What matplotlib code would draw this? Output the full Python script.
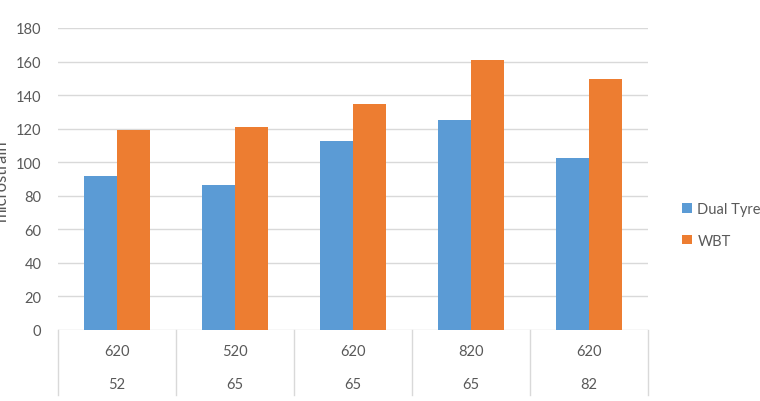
import matplotlib
matplotlib.use("Agg")
import matplotlib.pyplot as plt
import matplotlib.transforms as mtransforms
import numpy as np

# Data
outer_labels = ["620", "520", "620", "820", "620"]
inner_labels = ["52", "65", "65", "65", "82"]
series_names = ["Dual Tyre", "WBT"]
dual_tyre = [92, 86.5, 112.5, 125, 102.5]
wbt = [119.5, 121, 134.5, 161, 149.5]
y_ticks = [0, 20, 40, 60, 80, 100, 120, 140, 160, 180]

blue = "#5B9BD5"
orange = "#ED7D31"
grid_c = "#D9D9D9"
text_c = "#595959"
font = "Lato"
fs = 10.5

fig = plt.figure(figsize=(7.6, 4.02), dpi=100)
ax = fig.add_axes([58/760, 1-331/402, 590/760, 302/402])

n = len(outer_labels)
x = np.arange(n)
w = 0.283
b1 = ax.bar(x - w/2, dual_tyre, width=w, color=blue, label=series_names[0], zorder=3)
b2 = ax.bar(x + w/2, wbt, width=w, color=orange, label=series_names[1], zorder=3)

ax.set_xlim(-0.5, n - 0.5)
ax.set_ylim(0, 180)
ax.set_yticks(y_ticks)
ax.set_yticklabels([str(t) for t in y_ticks], fontsize=fs, color=text_c, family=font)
ax.tick_params(axis="y", length=0, pad=12)
ax.set_xticks([])
for s in ax.spines.values():
    s.set_visible(False)
ax.yaxis.grid(True, color=grid_c, linewidth=1.0, zorder=0)
ax.set_axisbelow(True)

# Multi-level category axis
trans = mtransforms.blended_transform_factory(ax.transData, ax.transAxes)
for b in np.arange(-0.5, n, 1.0):
    ax.plot([b, b], [0, -0.215], transform=trans, color=grid_c, linewidth=1.0, clip_on=False)
for i in range(n):
    ax.text(i, -0.07, outer_labels[i], transform=trans, ha="center", va="center",
            fontsize=fs, color=text_c, family=font)
    ax.text(i, -0.18, inner_labels[i], transform=trans, ha="center", va="center",
            fontsize=fs, color=text_c, family=font)

# Y label (partially cut off at the left edge, as in the reference)
fig.text(1/760, 1-180/402, "microstrain", rotation=90, ha="center", va="center",
         fontsize=12, color=text_c, family=font)

# Legend
leg = fig.legend(handles=[b1, b2], labels=series_names, loc="center left",
                 bbox_to_anchor=(669/760, 1-226/402), frameon=False,
                 prop={"family": font, "size": fs}, labelcolor=text_c,
                 handlelength=0.65, handleheight=0.65, handletextpad=0.4,
                 labelspacing=1.2)

fig.savefig("out.png", dpi=100)
